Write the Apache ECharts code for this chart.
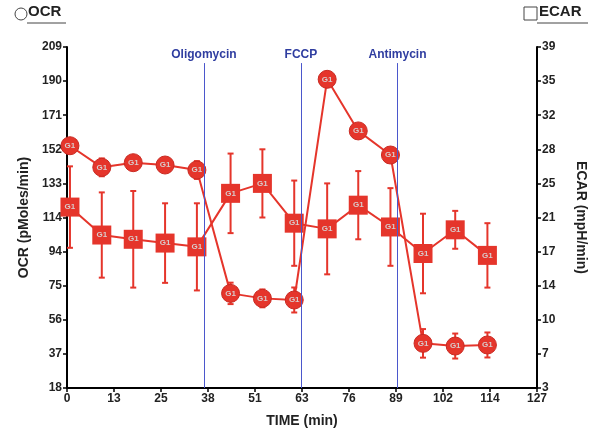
<!DOCTYPE html>
<html>
<head>
<meta charset="utf-8">
<script src="https://cdn.jsdelivr.net/npm/echarts@6/dist/echarts.min.js"></script>
<style>html,body{margin:0;padding:0;background:#fff}#c{width:600px;height:437px}</style>
</head>
<body>
<div id="c"></div>
<script>
// ---- data ----
const timeMin  = [0.8, 9.4, 17.9, 26.5, 35.1, 44.2, 52.8, 61.4, 70.3, 78.7, 87.4, 96.2, 104.9, 113.6];
const ocrMean  = [153.7, 141.6, 144.2, 142.9, 140.1, 71.0, 68.2, 67.3, 190.9, 162.0, 148.5, 43.0, 41.5, 42.1];
const ocrErr   = [3, 5, 3, 3, 5, 6, 5, 7, 3, 3, 3, 8, 7, 7];
const ecarMean = [22.1, 19.15, 18.7, 18.3, 17.9, 23.55, 24.6, 20.4, 19.8, 22.3, 20.0, 17.2, 19.7, 17.0];
const ecarErr  = [4.3, 4.5, 5.1, 4.2, 4.6, 4.2, 3.6, 4.5, 4.8, 3.6, 4.1, 4.2, 2.0, 3.4];
const injectNames = ['Oligomycin', 'FCCP', 'Antimycin'];
const injectTimes = [37, 63.2, 89.3];
const xTickLabels    = ['0','13','25','38','51','63','76','89','102','114','127'];
const ocrTickLabels  = ['18','37','56','75','94','114','133','152','171','190','209'];
const ecarTickLabels = ['3','7','10','14','17','21','25','28','32','35','39'];
const groupLabel = 'G1';

// ---- axis ranges ----
const xMin = 0, xMax = 127;
const y1Min = 18, y1Max = 209;
const y2Min = 3, y2Max = 39;
function tickVals(mn, mx, n) { const a = []; for (let i = 0; i < n; i++) a.push(mn + (mx - mn) * i / (n - 1)); return a; }
function labelFor(arr, mn, mx) { return function (v) { const i = Math.round((v - mn) / (mx - mn) * (arr.length - 1)); return arr[i] !== undefined ? arr[i] : ''; }; }
const xTicks = tickVals(xMin, xMax, xTickLabels.length);
const y1Ticks = tickVals(y1Min, y1Max, ocrTickLabels.length);
const y2Ticks = tickVals(y2Min, y2Max, ecarTickLabels.length);

const RED = '#e5352b';
const FONT = '"Liberation Sans", Arial, sans-serif';

const ocrPts = timeMin.map((t, i) => [t, ocrMean[i]]);
const ecarPts = timeMin.map((t, i) => [t, ecarMean[i]]);
const ocrBars = timeMin.map((t, i) => [t, ocrMean[i] - ocrErr[i], ocrMean[i] + ocrErr[i]]);
const ecarBars = timeMin.map((t, i) => [t, ecarMean[i] - ecarErr[i], ecarMean[i] + ecarErr[i]]);

function errRender(params, api) {
  const x = api.value(0);
  const lo = api.coord([x, api.value(1)]);
  const hi = api.coord([x, api.value(2)]);
  const w = 3;
  const st = { stroke: RED, lineWidth: 2 };
  return {
    type: 'group',
    children: [
      { type: 'line', shape: { x1: lo[0], y1: lo[1], x2: hi[0], y2: hi[1] }, style: st },
      { type: 'line', shape: { x1: lo[0] - w, y1: lo[1], x2: lo[0] + w, y2: lo[1] }, style: st },
      { type: 'line', shape: { x1: hi[0] - w, y1: hi[1], x2: hi[0] + w, y2: hi[1] }, style: st }
    ]
  };
}

const axisCommon = {
  axisLine: { show: true, lineStyle: { color: '#000', width: 2 } },
  axisTick: { show: true, inside: false, length: 4, lineStyle: { color: '#000', width: 1.5 } },
  splitLine: { show: false },
  nameTextStyle: { fontFamily: FONT, fontWeight: 'bold', fontSize: 14, color: '#222' }
};

const markLineData = injectTimes.map((t, i) => [
  { coord: [t, y1Min], symbol: 'none' },
  { coord: [t, 200], symbol: 'none', name: injectNames[i] }
]);

const labelStyle = { show: true, position: 'inside', formatter: groupLabel, color: '#d8cccc', fontSize: 8, fontWeight: 'bold', fontFamily: FONT };

const chart = echarts.init(document.getElementById('c'), null, { renderer: 'canvas' });
chart.setOption({
  animation: false,
  backgroundColor: '#fff',
  grid: { left: 67, right: 63, top: 47, bottom: 49 },
  xAxis: Object.assign({}, axisCommon, {
    type: 'value', min: xMin, max: xMax,
    name: 'TIME (min)', nameLocation: 'middle', nameGap: 26,
    axisTick: Object.assign({}, axisCommon.axisTick, { customValues: xTicks }),
    axisLabel: { customValues: xTicks, formatter: labelFor(xTickLabels, xMin, xMax), fontFamily: FONT, fontWeight: 'bold', fontSize: 12, color: '#222', margin: 5 }
  }),
  yAxis: [
    Object.assign({}, axisCommon, {
      type: 'value', min: y1Min, max: y1Max, position: 'left',
      name: 'OCR (pMoles/min)', nameLocation: 'middle', nameGap: 36,
      axisTick: Object.assign({}, axisCommon.axisTick, { customValues: y1Ticks }),
      axisLabel: { customValues: y1Ticks, formatter: labelFor(ocrTickLabels, y1Min, y1Max), fontFamily: FONT, fontWeight: 'bold', fontSize: 12, color: '#222', margin: 5 }
    }),
    Object.assign({}, axisCommon, {
      type: 'value', min: y2Min, max: y2Max, position: 'right',
      name: 'ECAR (mpH/min)', nameLocation: 'middle', nameGap: 37, nameRotate: -90,
      axisTick: Object.assign({}, axisCommon.axisTick, { customValues: y2Ticks }),
      axisLabel: { customValues: y2Ticks, formatter: labelFor(ecarTickLabels, y2Min, y2Max), fontFamily: FONT, fontWeight: 'bold', fontSize: 12, color: '#222', margin: 5 }
    })
  ],
  series: [
    {
      type: 'line', name: 'inject', data: [], yAxisIndex: 0, silent: true,
      markLine: {
        silent: true, symbol: 'none', animation: false,
        lineStyle: { color: '#4b57cc', width: 1, type: 'solid' },
        label: { show: true, position: 'end', formatter: '{b}', color: '#2f3da0', fontWeight: 'bold', fontSize: 12, fontFamily: FONT, distance: 2 },
        data: markLineData
      }
    },
    { type: 'custom', name: 'ocrErr', yAxisIndex: 0, data: ocrBars, renderItem: errRender, z: 2, encode: { x: 0, y: [1, 2] } },
    { type: 'custom', name: 'ecarErr', yAxisIndex: 1, data: ecarBars, renderItem: errRender, z: 2, encode: { x: 0, y: [1, 2] } },
    {
      type: 'line', name: 'ECAR', yAxisIndex: 1, data: ecarPts, z: 3,
      symbol: 'rect', symbolSize: 19, showAllSymbol: true,
      lineStyle: { color: RED, width: 2 }, itemStyle: { color: RED },
      label: labelStyle
    },
    {
      type: 'line', name: 'OCR', yAxisIndex: 0, data: ocrPts, z: 4,
      symbol: 'circle', symbolSize: 18, showAllSymbol: true,
      lineStyle: { color: RED, width: 2 }, itemStyle: { color: RED, borderColor: '#c92a22', borderWidth: 1 },
      label: labelStyle
    }
  ],
  graphic: [
    { type: 'circle', shape: { cx: 21, cy: 14, r: 6 }, style: { fill: 'none', stroke: '#444', lineWidth: 1 } },
    { type: 'text', left: 28, top: 4, style: { text: 'OCR', font: 'bold 15px ' + FONT, fill: '#222' } },
    { type: 'line', shape: { x1: 27, y1: 23, x2: 66, y2: 23 }, style: { stroke: '#444', lineWidth: 1 } },
    { type: 'rect', shape: { x: 524, y: 7, width: 13, height: 13 }, style: { fill: 'none', stroke: '#444', lineWidth: 1 } },
    { type: 'text', left: 539, top: 4, style: { text: 'ECAR', font: 'bold 15px ' + FONT, fill: '#222' } },
    { type: 'line', shape: { x1: 537, y1: 23, x2: 588, y2: 23 }, style: { stroke: '#444', lineWidth: 1 } }
  ]
});
</script>
</body>
</html>
